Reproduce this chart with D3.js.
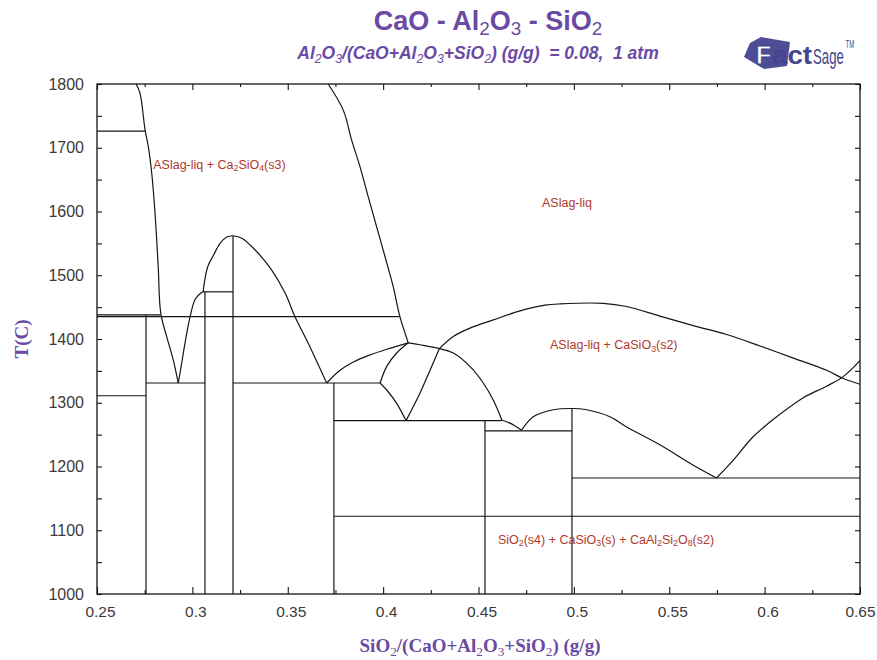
<!DOCTYPE html>
<html>
<head>
<meta charset="utf-8">
<script src="https://cdn.jsdelivr.net/npm/d3@7"></script>
<style>
  body { margin: 0; background: #fff; }
  svg { display: block; font-family: Arial, "Liberation Sans", sans-serif; }
  .phase { fill: none; stroke: #151515; stroke-width: 1.2; stroke-linejoin: round; }
  .axis text { fill: #3a3a3a; font-size: 16px; font-family: Arial, "Liberation Sans", sans-serif; }
  .axis line { stroke: #151515; stroke-width: 1.1; }
</style>
</head>
<body>
<div id="root"></div>
<script>
// x = SiO2/(CaO+Al2O3+SiO2), y = T(C)
const xTicks = [0.25, 0.3, 0.35, 0.4, 0.45, 0.5, 0.55, 0.6, 0.65];
const xMinor = [0.275, 0.325, 0.375, 0.425, 0.475, 0.525, 0.575, 0.625];
const yTicks = [1000, 1100, 1200, 1300, 1400, 1500, 1600, 1700, 1800];
const yMinor = [1050, 1150, 1250, 1350, 1450, 1550, 1650, 1750];

// liquidus / boundary curves, [x, T]
const liqC2S = [[0.2705, 1800], [0.2725, 1786], [0.2752, 1728], [0.2769, 1702], [0.2787, 1660],
  [0.2804, 1598], [0.2821, 1513], [0.2834, 1441], [0.2865, 1404], [0.2900, 1367], [0.2926, 1331]];
const liqRankLow = [[0.2926, 1331], [0.2944, 1362], [0.2961, 1393], [0.2988, 1435], [0.3014, 1462],
  [0.3040, 1471], [0.3056, 1474]];
const liqRankLeft = [[0.3056, 1474], [0.3080, 1513], [0.3110, 1531], [0.3145, 1550], [0.3180, 1560], [0.3213, 1562]];
const liqRankRight = [[0.3213, 1562], [0.3259, 1558], [0.3328, 1540], [0.3416, 1508], [0.3486, 1472],
  [0.3538, 1435], [0.3608, 1393], [0.3704, 1331]];
const liqUpper = [[0.3712, 1800], [0.3791, 1759], [0.3835, 1712], [0.3879, 1670], [0.3922, 1623],
  [0.3966, 1576], [0.4010, 1529], [0.4053, 1482], [0.4088, 1435], [0.4132, 1394]];
const arcLeft = [[0.3704, 1331], [0.3774, 1351], [0.3844, 1364], [0.3931, 1375], [0.4019, 1384], [0.4132, 1394]];
const domeTop = [[0.4132, 1394], [0.4193, 1391], [0.4295, 1385], [0.4368, 1378], [0.4455, 1357], [0.4525, 1331],
  [0.4578, 1304], [0.4622, 1273]];
const domeFoot = [[0.4622, 1273], [0.4665, 1268], [0.4726, 1257]];
const wollBump = [[0.4726, 1257], [0.4787, 1278], [0.4892, 1289],
  [0.4990, 1291], [0.5067, 1289], [0.5189, 1278], [0.5277, 1262], [0.5451, 1234], [0.5626, 1202], [0.5748, 1182]];
const rightRise = [[0.5748, 1182], [0.5836, 1210], [0.5941, 1247], [0.6063, 1278], [0.6203, 1308],
  [0.6325, 1326], [0.6412, 1341], [0.6500, 1366]];
const upperArc = [[0.4295, 1385], [0.4368, 1404], [0.4455, 1417], [0.4578, 1430], [0.4718, 1444],
  [0.4849, 1453], [0.4927, 1455], [0.5154, 1456], [0.5277, 1451], [0.5451, 1436], [0.5626, 1421],
  [0.5801, 1407], [0.5976, 1389], [0.6151, 1370], [0.6325, 1351], [0.6412, 1338], [0.6500, 1329]];
const inner1 = [[0.4132, 1394], [0.4071, 1378], [0.4019, 1357], [0.3984, 1331]];
const inner2 = [[0.3984, 1331], [0.4019, 1320], [0.4071, 1299], [0.4120, 1272]];
const inner3 = [[0.4295, 1385], [0.4246, 1351], [0.4193, 1315], [0.4120, 1272]];

// isotherms [T, x1, x2] and vertical lines [x, T1, T2]
const isotherms = [[1726, 0.25, 0.2752], [1438, 0.25, 0.2834], [1435, 0.25, 0.4088], [1474, 0.3056, 0.3213],
  [1331, 0.2757, 0.3066], [1331, 0.3213, 0.3984], [1311, 0.25, 0.2757], [1272, 0.3742, 0.4622],
  [1256, 0.4534, 0.4990], [1182, 0.4990, 0.65], [1122, 0.3742, 0.65]];
const verticals = [[0.2757, 1000, 1438], [0.3066, 1000, 1474], [0.3213, 1000, 1562],
  [0.3742, 1000, 1331], [0.4534, 1000, 1272], [0.4990, 1000, 1291]];

// region labels [text, x, T]
const regionLabels = [
  ['ASlag-liq + Ca_2SiO_4(s3)', 0.2795, 1667],
  ['ASlag-liq', 0.4833, 1607],
  ['ASlag-liq + CaSiO_3(s2)', 0.4875, 1384],
  ['SiO_2(s4) + CaSiO_3(s) + CaAl_2Si_2O_8(s2)', 0.4602, 1079]
];

const width = 877;
const height = 660;
const purple = '#6a4aa3';

const x = d3.scaleLinear().domain([0.25, 0.65]).range([97, 860]);
const y = d3.scaleLinear().domain([1000, 1800]).range([594, 84]);

const svg = d3.select('#root').append('svg').attr('width', width).attr('height', height);
svg.append('rect').attr('width', width).attr('height', height).attr('fill', '#fff');

// text with _N subscripts
function rich(sel, str, size) {
  const parts = str.split(/_(\d)/);
  let cur = 0;
  parts.forEach((p, i) => {
    if (!p) return;
    const sub = i % 2 === 1;
    const want = sub ? size * 0.2 : 0;
    sel.append('tspan')
      .attr('dy', want - cur)
      .style('font-size', sub ? (size * 0.7) + 'px' : size + 'px')
      .style('font-weight', sub ? 'normal' : null)
      .text(p);
    cur = want;
  });
}

const fmt = d => String(+d.toFixed(3));

// axes
const axes = svg.append('g').attr('class', 'axis');
axes.append('g').attr('transform', `translate(0,${y(1000)})`)
  .call(d3.axisBottom(x).tickValues(xTicks).tickSizeInner(-7).tickSizeOuter(0).tickPadding(12).tickFormat(fmt))
  .selectAll('text').attr('dx', d => d === 0.65 ? 0 : 3).style('font-size', '15.5px');
axes.append('g').attr('transform', `translate(0,${y(1000)})`)
  .call(d3.axisBottom(x).tickValues(xMinor).tickSizeInner(-4).tickSizeOuter(0).tickFormat(''));
axes.append('g').attr('transform', `translate(0,${y(1800)})`)
  .call(d3.axisTop(x).tickValues(xTicks).tickSizeInner(-6).tickSizeOuter(0).tickFormat(''));
axes.append('g').attr('transform', `translate(0,${y(1800)})`)
  .call(d3.axisTop(x).tickValues(xMinor).tickSizeInner(-3).tickSizeOuter(0).tickFormat(''));
axes.append('g').attr('transform', `translate(${x(0.25)},0)`)
  .call(d3.axisLeft(y).tickValues(yTicks).tickSizeInner(-5).tickSizeOuter(0).tickPadding(13).tickFormat(d3.format('d')));
axes.append('g').attr('transform', `translate(${x(0.25)},0)`)
  .call(d3.axisLeft(y).tickValues(yMinor).tickSizeInner(-5).tickSizeOuter(0).tickFormat(''));
axes.append('g').attr('transform', `translate(${x(0.65)},0)`)
  .call(d3.axisRight(y).tickValues(yTicks.concat(yMinor)).tickSizeInner(-5).tickSizeOuter(0).tickFormat(''));
axes.selectAll('.domain').remove();

svg.append('rect')
  .attr('x', x(0.25)).attr('y', y(1800))
  .attr('width', x(0.65) - x(0.25)).attr('height', y(1000) - y(1800))
  .attr('fill', 'none').attr('stroke', '#151515').attr('stroke-width', 1.3);

// phase boundaries
const curve = d3.line().x(d => x(d[0])).y(d => y(d[1])).curve(d3.curveCatmullRom.alpha(0.5));
const straight = d3.line().x(d => x(d[0])).y(d => y(d[1]));
const gPhase = svg.append('g');
[liqC2S, liqRankLow, liqRankLeft, liqRankRight, liqUpper, arcLeft, domeTop, domeFoot, wollBump,
  rightRise, upperArc, inner1, inner2, inner3]
  .forEach(c => gPhase.append('path').attr('class', 'phase').attr('d', curve(c)));
isotherms.forEach(d => gPhase.append('path').attr('class', 'phase')
  .attr('d', straight([[d[1], d[0]], [d[2], d[0]]])));
verticals.forEach(d => gPhase.append('path').attr('class', 'phase')
  .attr('d', straight([[d[0], d[1]], [d[0], d[2]]])));

// region labels
regionLabels.forEach(d => {
  const t = svg.append('text')
    .attr('x', x(d[1])).attr('y', y(d[2]))
    .attr('fill', '#b0392c')
    .style('font-size', '12.5px');
  rich(t, d[0], 12.5);
});

// titles
const title = svg.append('text').attr('x', 488).attr('y', 30)
  .attr('text-anchor', 'middle').attr('fill', purple).style('font-weight', 'bold');
rich(title, 'CaO - Al_2O_3 - SiO_2', 27);

const sub = svg.append('text').attr('x', 478).attr('y', 59)
  .attr('text-anchor', 'middle').attr('fill', purple)
  .attr('xml:space', 'preserve')
  .style('font-weight', 'bold').style('font-style', 'italic');
rich(sub, 'Al_2O_3/(CaO+Al_2O_3+SiO_2) (g/g)  = 0.08,  1 atm', 17.5);

const xt = svg.append('text').attr('x', 480).attr('y', 652)
  .attr('text-anchor', 'middle').attr('fill', purple)
  .style('font-family', '"Liberation Serif", "Times New Roman", serif').style('font-weight', 'bold');
rich(xt, 'SiO_2/(CaO+Al_2O_3+SiO_2) (g/g)', 19);

svg.append('text')
  .attr('transform', `translate(28,${y(1400)}) rotate(-90)`)
  .attr('text-anchor', 'middle').attr('fill', purple)
  .style('font-family', '"Liberation Serif", "Times New Roman", serif').style('font-weight', 'bold')
  .style('font-size', '19px')
  .text('T(C)');

// FactSage logo
const logo = svg.append('g');
logo.append('path')
  .attr('d', 'M761,37 L790,42 L787,66 L764,69 L744,57 L750,43 Z')
  .attr('fill', '#4d4d96');
logo.append('text').attr('x', 756).attr('y', 64)
  .style('font-size', '25px').style('font-weight', 'bold').attr('fill', '#fff')
  .attr('stroke', '#3f3f8a').attr('stroke-width', 0.8)
  .text('F');
logo.append('text').attr('x', 772).attr('y', 64)
  .style('font-size', '25px').style('font-weight', 'bold').attr('fill', '#45458f')
  .attr('textLength', 40).attr('lengthAdjust', 'spacingAndGlyphs')
  .text('act');
const sage = logo.append('text')
  .attr('transform', 'translate(813,64) scale(0.6,1)')
  .attr('fill', '#45458f')
  .style('font-size', '22px');
sage.append('tspan').text('Sage');
sage.append('tspan').attr('dx', 3).attr('dy', -16).style('font-size', '10px').text('TM');
</script>
</body>
</html>
